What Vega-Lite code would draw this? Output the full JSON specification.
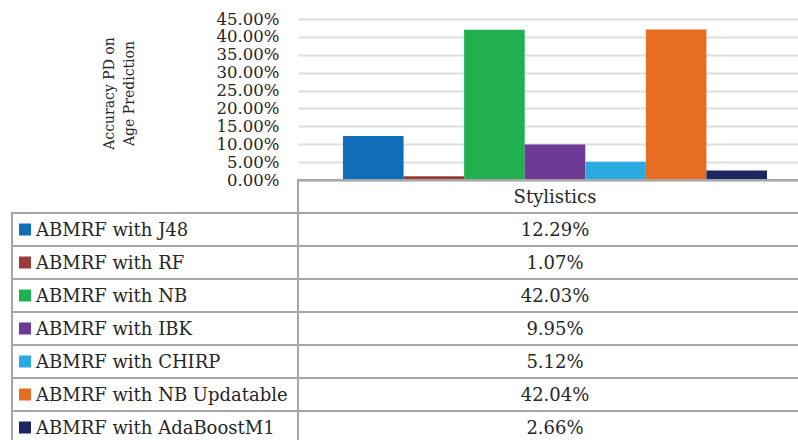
{
  "$schema": "https://vega.github.io/schema/vega-lite/v6.json",
  "autosize": {"type": "none"},
  "padding": {"left": 298, "top": 19, "right": 0, "bottom": 260},
  "width": 500,
  "height": 161,
  "config": {"view": {"stroke": null}, "font": "DejaVu Serif", "text": {"font": "DejaVu Serif", "color": "#262626"}},
  "data": {"values": [
    {"Category": "Stylistics", "Method": "ABMRF with J48", "Accuracy": 0.1229},
    {"Category": "Stylistics", "Method": "ABMRF with RF", "Accuracy": 0.0107},
    {"Category": "Stylistics", "Method": "ABMRF with NB", "Accuracy": 0.4203},
    {"Category": "Stylistics", "Method": "ABMRF with IBK", "Accuracy": 0.0995},
    {"Category": "Stylistics", "Method": "ABMRF with CHIRP", "Accuracy": 0.0512},
    {"Category": "Stylistics", "Method": "ABMRF with NB Updatable", "Accuracy": 0.4204},
    {"Category": "Stylistics", "Method": "ABMRF with AdaBoostM1", "Accuracy": 0.0266}
  ]},
  "layer": [
    {
      "mark": {"type": "bar"},
      "encoding": {
        "x": {"field": "Category", "type": "nominal", "scale": {"range": [0, 514], "paddingInner": 0, "paddingOuter": 0},
              "axis": {"title": null, "labels": false, "ticks": false, "domainColor": "#a6a6a6", "domainWidth": 2}},
        "xOffset": {"field": "Method", "type": "nominal",
                    "scale": {"domain": ["ABMRF with J48", "ABMRF with RF", "ABMRF with NB", "ABMRF with IBK", "ABMRF with CHIRP", "ABMRF with NB Updatable", "ABMRF with AdaBoostM1"], "paddingInner": 0, "paddingOuter": 0.743}},
        "y": {"field": "Accuracy", "type": "quantitative", "scale": {"domain": [0, 0.45], "nice": false},
              "axis": {"values": [0, 0.05, 0.1, 0.15, 0.2, 0.25, 0.3, 0.35, 0.4, 0.45], "format": ".2%",
                       "title": ["Accuracy PD on", "Age Prediction"], "domain": false, "ticks": false,
                       "grid": true, "gridColor": "#dedede", "gridWidth": 2,
                       "labelFont": "DejaVu Serif", "labelFontSize": 16.5, "labelColor": "#262626", "labelPadding": 19,
                       "titleFont": "DejaVu Serif", "titleFontSize": 14, "titleFontWeight": "normal", "titleColor": "#262626",
                       "titlePadding": 80, "titleLineHeight": 20, "titleY": 74}},
        "color": {"field": "Method", "type": "nominal", "legend": null,
                  "scale": {"domain": ["ABMRF with J48", "ABMRF with RF", "ABMRF with NB", "ABMRF with IBK", "ABMRF with CHIRP", "ABMRF with NB Updatable", "ABMRF with AdaBoostM1"],
                            "range": ["#106EB8", "#9B3B38", "#21B04F", "#6F3996", "#29ABE2", "#E66D24", "#1E2660"]}}
      }
    },
    {
      "layer": [
        {
          "mark": {"type": "rect", "fill": null, "fillOpacity": 0, "stroke": "#a6a6a6", "strokeWidth": 2},
          "encoding": {
            "x": {"field": "Category", "type": "nominal"},
            "y": {"field": "Method", "type": "nominal", "axis": null,
                  "scale": {"domain": ["Stylistics", "ABMRF with J48", "ABMRF with RF", "ABMRF with NB", "ABMRF with IBK", "ABMRF with CHIRP", "ABMRF with NB Updatable", "ABMRF with AdaBoostM1"], "range": [161, 425], "paddingInner": 0, "paddingOuter": 0}}
          }
        },
        {
          "transform": [{"aggregate": [{"op": "count", "as": "n"}], "groupby": ["Category"]}],
          "mark": {"type": "rect", "fill": null, "fillOpacity": 0, "stroke": "#a6a6a6", "strokeWidth": 2},
          "encoding": {
            "x": {"field": "Category", "type": "nominal"},
            "y": {"field": "Category", "type": "nominal", "axis": null}
          }
        },
        {
          "mark": {"type": "rect", "fill": null, "fillOpacity": 0, "stroke": "#a6a6a6", "strokeWidth": 2},
          "encoding": {
            "x": {"value": -286},
            "x2": {"value": 0},
            "y": {"field": "Method", "type": "nominal", "axis": null}
          }
        },
        {
          "mark": {"type": "point", "shape": "square", "filled": true, "size": 144, "opacity": 1},
          "encoding": {
            "x": {"value": -273},
            "y": {"field": "Method", "type": "nominal", "axis": null},
            "color": {"field": "Method", "type": "nominal", "legend": null}
          }
        },
        {
          "mark": {"type": "text", "align": "left", "baseline": "middle", "fontSize": 18, "dy": 1},
          "encoding": {
            "x": {"value": -262},
            "y": {"field": "Method", "type": "nominal", "axis": null},
            "text": {"field": "Method", "type": "nominal"}
          }
        },
        {
          "mark": {"type": "text", "align": "center", "baseline": "middle", "fontSize": 18, "dy": 1},
          "encoding": {
            "x": {"field": "Category", "type": "nominal"},
            "y": {"field": "Method", "type": "nominal", "axis": null},
            "text": {"field": "Accuracy", "type": "quantitative", "format": ".2%"}
          }
        },
        {
          "transform": [{"aggregate": [{"op": "count", "as": "n"}], "groupby": ["Category"]}],
          "mark": {"type": "text", "align": "center", "baseline": "middle", "fontSize": 18, "dy": 1},
          "encoding": {
            "x": {"field": "Category", "type": "nominal"},
            "y": {"field": "Category", "type": "nominal", "axis": null},
            "text": {"field": "Category", "type": "nominal"}
          }
        }
      ]
    }
  ],
  "resolve": {"scale": {"y": "independent"}}
}
